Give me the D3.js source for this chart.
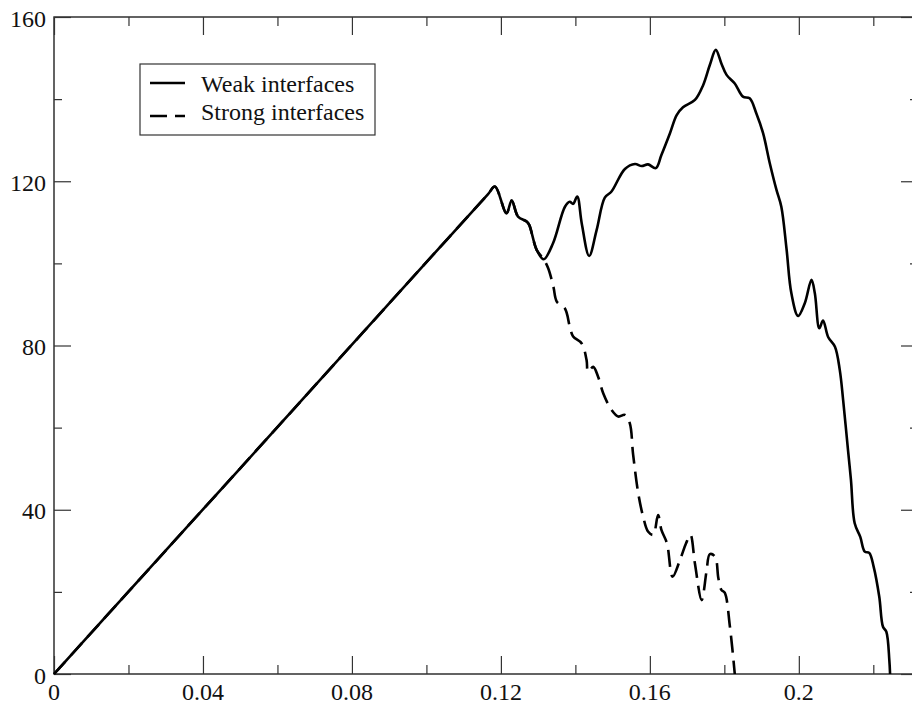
<!DOCTYPE html>
<html><head><meta charset="utf-8">
<script src="https://cdn.jsdelivr.net/npm/d3@7"></script>
<style>body{margin:0;background:#fff}svg{display:block}</style>
</head><body>
<svg id="c" width="912" height="705"></svg>
<script>
const weakX = [0,0.0015,0.02,0.05,0.08,0.1036,0.1165,0.1184,0.1215,0.1229,0.1246,0.1269,0.1276,0.1296,0.1315,0.1340,0.1372,0.1385,0.1394,0.1405,0.1417,0.1437,0.1457,0.1479,0.1497,0.1533,0.1560,0.1578,0.1595,0.1616,0.1631,0.1654,0.1672,0.1689,0.1721,0.1743,0.1761,0.1777,0.1792,0.1806,0.1828,0.1850,0.1868,0.1886,0.1904,0.1922,0.1940,0.1953,0.1967,0.1980,0.1998,0.2016,0.2034,0.2043,0.2055,0.2065,0.2079,0.2097,0.2110,0.2119,0.2132,0.2140,0.2150,0.2165,0.2177,0.2189,0.2201,0.2216,0.2226,0.2235,0.2243,0.2245];
const weakY = [0,1.5,20.05,50.1,80.2,103.9,116.8,118.7,112.2,115.3,111.4,110.2,109.4,103.3,101.0,104.9,113.8,115.0,114.5,116.3,109.8,101.8,108.1,116.0,117.5,123.0,124.2,123.7,124.1,123.2,126.4,131.7,136.1,138.0,139.8,143.4,148.3,152.0,148.7,145.9,143.8,140.6,140.2,136.5,131.7,124.4,117.9,113.8,103.5,92.7,87.2,90.3,96.0,92.7,84.2,86.1,82.0,79.7,74.0,66.7,54.6,47.2,36.7,33.4,29.8,29.5,26.1,18.8,11.5,10.3,3.4,0];
const strongX = [0,0.0015,0.02,0.05,0.08,0.1036,0.1165,0.1184,0.1215,0.1229,0.1246,0.1269,0.1276,0.1296,0.1315,0.1327,0.1341,0.1350,0.1372,0.1385,0.1394,0.1417,0.1430,0.1434,0.1448,0.1461,0.1475,0.1497,0.1515,0.1533,0.1546,0.1555,0.1569,0.1582,0.1595,0.1609,0.1622,0.1631,0.1646,0.1661,0.1681,0.1697,0.1709,0.1721,0.1739,0.1752,0.1761,0.1775,0.1784,0.1792,0.1801,0.1815,0.1828];
const strongY = [0,1.5,20.05,50.1,80.2,103.9,116.8,118.7,112.2,115.3,111.4,110.2,109.4,103.3,101.0,98.8,94.3,90.7,89.0,84.6,82.2,80.5,76.5,73.6,74.8,72.4,68.3,64.3,62.7,63.1,61.1,53.5,43.9,38.3,34.7,33.9,38.7,35.1,31.8,23.7,27.8,31.8,33.9,26.9,18.0,24.9,29.2,28.6,23.3,20.5,19.8,11.5,0];
const xMajor = [0,0.04,0.08,0.12,0.16,0.2];
const xMinor = [0.02,0.06,0.1,0.14,0.18,0.22];
const xLabels = ["0","0.04","0.08","0.12","0.16","0.2"];
const yMajor = [0,40,80,120,160];
const yMinor = [20,60,100,140];
const yLabels = ["0","40","80","120","160"];
const seriesNames = ["Weak interfaces","Strong interfaces"];

const FONT = '"Liberation Serif", "Times New Roman", Times, serif';
const svg = d3.select("#c");
const L=54, R=918, T=17, B=674;
const x = d3.scaleLinear().domain([0,0.232]).range([L,R]);
const y = d3.scaleLinear().domain([0,160]).range([B,T]);

svg.append("rect").attr("x",L).attr("y",T).attr("width",R-L).attr("height",B-T)
  .attr("fill","none").attr("stroke","#222").attr("stroke-width",1.4);

function ax(gen, scale, vals, size, tx, ty){
  const g = svg.append("g").attr("transform",`translate(${tx},${ty})`)
    .call(gen(scale).tickValues(vals).tickSize(size).tickFormat(""));
  g.select(".domain").remove();
  g.selectAll("line").attr("stroke","#333").attr("stroke-width",1.2);
  return g;
}
ax(d3.axisBottom,x,xMajor,-18,0,B); ax(d3.axisBottom,x,xMinor,-9,0,B);
ax(d3.axisTop,x,xMajor,-18,0,T); ax(d3.axisTop,x,xMinor,-9,0,T);
ax(d3.axisLeft,y,yMajor,-17,L,0); ax(d3.axisLeft,y,yMinor,-8,L,0);
ax(d3.axisRight,y,yMajor,-17,R,0); ax(d3.axisRight,y,yMinor,-8,R,0);

svg.append("g").selectAll("text").data(xMajor).join("text")
  .attr("x",d=>x(d)).attr("y",700).attr("text-anchor","middle")
  .style("font-family",FONT).attr("font-size",24).attr("fill","#111").text((d,i)=>xLabels[i]);
svg.append("g").selectAll("text").data(yMajor).join("text")
  .attr("x",46).attr("y",d=>y(d)+9.5).attr("text-anchor","end")
  .style("font-family",FONT).attr("font-size",24).attr("fill","#111").text((d,i)=>yLabels[i]);

const line = d3.line().x(d=>x(d[0])).y(d=>y(d[1])).curve(d3.curveCatmullRom.alpha(0.5));
const weak = weakX.map((v,i)=>[v,weakY[i]]);
const strong = strongX.map((v,i)=>[v,strongY[i]]);
svg.append("path").attr("d",line(strong)).attr("fill","none").attr("stroke","#000")
  .attr("stroke-width",2.6).attr("stroke-dasharray","17,8");
svg.append("path").attr("d",line(weak)).attr("fill","none").attr("stroke","#000")
  .attr("stroke-width",2.6);

const lg = svg.append("g");
lg.append("rect").attr("x",140).attr("y",64).attr("width",235).attr("height",71)
  .attr("fill","#fff").attr("stroke","#333").attr("stroke-width",1.2);
const dashes = [null,"17,8"];
seriesNames.forEach((n,i)=>{
  const yy = [83,116][i];
  lg.append("line").attr("x1",150).attr("x2",185).attr("y1",yy).attr("y2",yy)
    .attr("stroke","#000").attr("stroke-width",2.6).attr("stroke-dasharray",dashes[i]);
  lg.append("text").attr("x",201).attr("y",[92,120][i]).style("font-family",FONT).attr("font-size",24)
    .attr("fill","#111").text(n);
});
</script>
</body></html>
